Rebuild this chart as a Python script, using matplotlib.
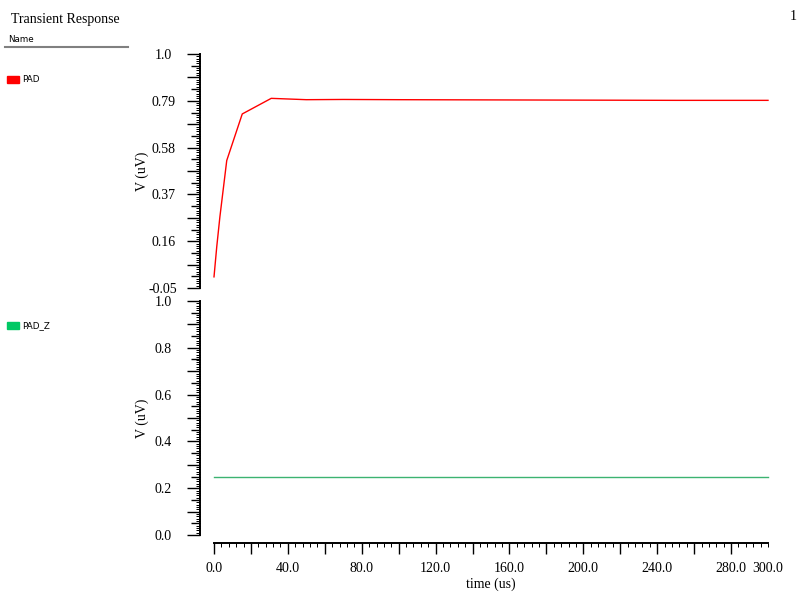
import matplotlib.pyplot as plt
import numpy as np
from matplotlib.patches import Rectangle
from matplotlib.ticker import FixedLocator, FixedFormatter, FuncFormatter, NullLocator

# signal values
t_pad = [0, 1.5, 3.2, 6.9, 15.3, 31, 50, 70, 100, 150, 200, 250, 300]
v_pad = [0.0, 0.136, 0.27, 0.522, 0.731, 0.801, 0.795, 0.796, 0.795, 0.794, 0.793, 0.792, 0.792]
t_padz = [0, 300]
v_padz = [0.25, 0.25]

serif = 'Liberation Serif'
sans = 'DejaVu Sans'
px = 0.72  # points per pixel at dpi 100

fig = plt.figure(figsize=(8, 6), dpi=100)
ax_top = fig.add_axes([214/800, 1-288/600, 554/800, 234/600])
ax_bot = fig.add_axes([214/800, 1-535/600, 554/800, 234/600], sharex=ax_top)

ax_top.plot(t_pad, v_pad, color='#ff0000', lw=1.0, clip_on=False)
ax_bot.plot(t_padz, v_padz, color='#3cb371', lw=1.0, clip_on=False)

spine_x = -14/554


def style_y(ax, lo, step, labels):
    ax.set_ylim(lo, lo + 10*step)
    for s in ['top', 'right', 'bottom']:
        ax.spines[s].set_visible(False)
    ax.spines['left'].set_position(('axes', spine_x))
    ax.spines['left'].set_linewidth(1.4)
    longs = lo + step*np.arange(11)
    mids = longs[:-1] + step/2
    shorts = lo + step/10*np.arange(101)
    ax.yaxis.set_major_locator(FixedLocator(longs))
    ax.yaxis.set_major_formatter(FixedFormatter([labels[i//2] if i % 2 == 0 else '' for i in range(11)]))
    ax.yaxis.set_minor_locator(FixedLocator(shorts))
    ax.tick_params(axis='y', which='major', length=12.7*px, width=1.0, pad=24*px,
                   labelsize=10, labelfontfamily=serif)
    ax.tick_params(axis='y', which='minor', length=4.3*px, width=px)
    plt.setp(ax.get_yticklabels(), ha='center')
    # medium ticks halfway between the long ones
    sec = ax.secondary_yaxis(spine_x)
    sec.set_yticks(mids)
    sec.set_yticklabels([])
    sec.yaxis.set_minor_locator(NullLocator())
    sec.tick_params(axis='y', length=9*px, width=1.0)
    sec.spines['left'].set_visible(False)
    ax.set_ylabel('V (uV)', fontfamily=serif, fontsize=10)
    ax.yaxis.set_label_coords(-0.118, 0.5)


style_y(ax_top, -0.05, 0.105, ['-0.05', '0.16', '0.37', '0.58', '0.79', '1.0'])
style_y(ax_bot, 0.0, 0.1, ['0.0', '0.2', '0.4', '0.6', '0.8', '1.0'])

ax_top.set_xlim(0, 300)
ax_top.tick_params(axis='x', which='both', bottom=False, labelbottom=False)

ax_bot.spines['bottom'].set_visible(True)
ax_bot.spines['bottom'].set_position(('outward', 8*px))
ax_bot.spines['bottom'].set_bounds(0, 300)
ax_bot.spines['bottom'].set_linewidth(1.4)
x_long = np.arange(0, 281, 20)
ax_bot.xaxis.set_major_locator(FixedLocator(x_long))
ax_bot.xaxis.set_major_formatter(FixedFormatter(['%.1f' % v if v % 40 == 0 else '' for v in x_long]))
ax_bot.xaxis.set_minor_locator(FixedLocator(np.arange(0, 301, 4)))
ax_bot.xaxis.set_minor_formatter(FuncFormatter(lambda v, p: '300.0' if abs(v - 300) < 1e-6 else ''))
ax_bot.tick_params(axis='x', which='major', length=11*px, width=1.0, pad=7.5*px,
                   labelsize=10, labelfontfamily=serif)
ax_bot.tick_params(axis='x', which='minor', length=4.3*px, width=px, pad=14.2*px,
                   labelsize=10, labelfontfamily=serif)
ax_bot.set_xlabel('time (us)', fontfamily=serif, fontsize=10, labelpad=2)

# left-hand name panel
fig.text(10.7/800, 1-22.7/600, 'Transient Response', fontfamily=serif, fontsize=10, va='baseline')
fig.text(793/800, 1-17/600, '1', fontfamily=serif, fontsize=10, ha='center', va='center')
fig.text(8.3/800, 1-42.3/600, 'Name', fontfamily=sans, fontsize=6.3, va='baseline')
fig.add_artist(plt.Line2D([5.3/800, 128.3/800], [1-46.7/600, 1-46.7/600], color='#808080', lw=1.5))
fig.add_artist(Rectangle((7.3/800, 1-82.7/600), 11.4/800, 7/600, color='#ff0000', transform=fig.transFigure))
fig.text(21.7/800, 1-79/600, 'PAD', fontfamily=sans, fontsize=6.3, va='center')
fig.add_artist(Rectangle((6.7/800, 1-329.3/600), 12/800, 7/600, color='#00c864', transform=fig.transFigure))
fig.text(22/800, 1-326/600, 'PAD_Z', fontfamily=sans, fontsize=6.3, va='center')

fig.savefig('out.png', dpi=100)
